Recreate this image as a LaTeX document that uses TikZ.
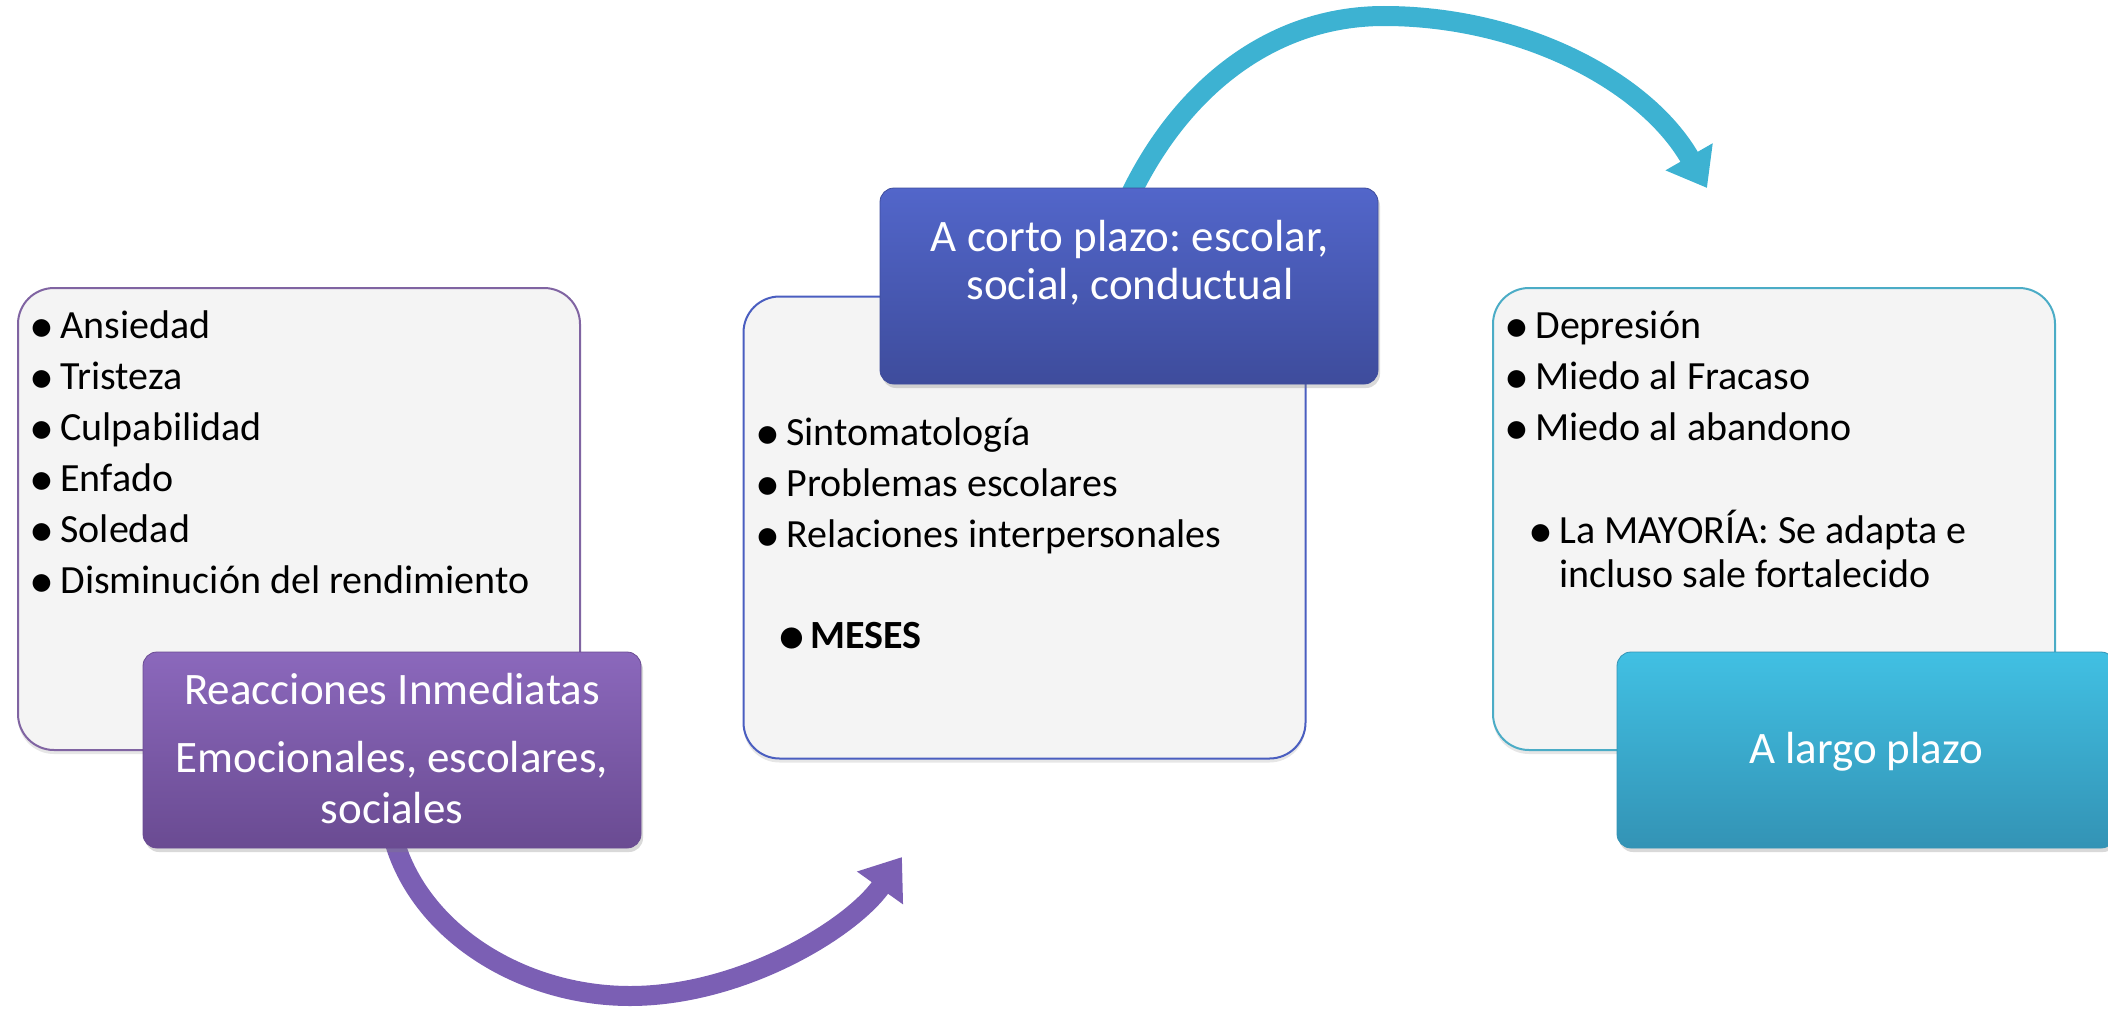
\documentclass[tikz,border=0pt]{standalone}
\usepackage{fontspec}
\setmainfont{Carlito}
\usetikzlibrary{arrows.meta,shadows,backgrounds}
\frenchspacing

\definecolor{paper}{HTML}{F4F4F4}
\definecolor{lilac}{HTML}{8064A2}
\definecolor{lilactop}{HTML}{8B68BC}
\definecolor{lilacbot}{HTML}{6A4B92}
\definecolor{indigo}{HTML}{4A5EC0}
\definecolor{indigotop}{HTML}{5266CA}
\definecolor{indigobot}{HTML}{3E4C9C}
\definecolor{lagoon}{HTML}{4BACC6}
\definecolor{lagoontop}{HTML}{41C0E3}
\definecolor{lagoonbot}{HTML}{3393B5}
\definecolor{lilacarrow}{HTML}{7B5FB4}
\definecolor{lagoonarrow}{HTML}{3DB2D2}

\newcommand{\bul}{\llap{\raisebox{-2.4pt}{\scalebox{1.25}{\textbullet}}\hspace{3pt}}}

\begin{document}
\begin{tikzpicture}[x=0.5pt, y=-0.5pt,
		lightbox/.style={draw=#1, line width=1pt, fill=paper, rounded corners=18pt, inner sep=0pt,
			minimum width=281pt, minimum height=231pt,
			drop shadow={opacity=0.2, shadow xshift=0pt, shadow yshift=-2pt}},
		headbox/.style 2 args={rounded corners=7pt, inner sep=0pt, top color=#1, bottom color=#2, draw=#2,
			minimum width=249pt, minimum height=98pt,
			drop shadow={opacity=0.3, shadow xshift=1pt, shadow yshift=-2pt}},
		listitem/.style={anchor=base west, inner sep=0pt, font=\fontsize{20}{24}\selectfont},
		headtext/.style={anchor=base, inner sep=0pt, text=white, font=\fontsize{22.5}{27}\selectfont}]

			\useasboundingbox	(0, 0) rectangle (2108, 1012);

			% cajas claras
			\node[lightbox=lilac]	(emopanel) at (299, 519) {};
			\node[lightbox=indigo]	(shortpanel) at (1024.5, 527.5) {};
			\node[lightbox=lagoon]	(longpanel) at (1774, 519) {};

			% listas
			\foreach \txt [count=\i from 0] in {Ansiedad, Tristeza, Culpabilidad, Enfado, Soledad, Disminución del rendimiento}
				\node[listitem] (emo\i) at (60, {338+51*\i}) {\bul\txt};

			\foreach \txt [count=\i from 0] in {Sintomatología, Problemas escolares, Relaciones interpersonales}
				\node[listitem] (sym\i) at (786, {445+51*\i}) {\bul\txt};
			\node[listitem, font=\fontsize{20}{24}\selectfont\bfseries]	(months) at (810, 648) {\bul MESES};

			\foreach \txt [count=\i from 0] in {Depresión, Miedo al Fracaso, Miedo al abandono}
				\node[listitem] (fear\i) at (1535, {338+51*\i}) {\bul\txt};
			\node[listitem]	(most) at (1559, 543) {\bul La MAYORÍA: Se adapta e};
			\node[listitem]	(most2) at (1559, 587) {incluso sale fortalecido};

			% cajas de color
			\node[headbox={lilactop}{lilacbot}]		(react) at (392, 750) {};
			\node[headbox={indigotop}{indigobot}]	(shortterm) at (1129, 286) {};
			\node[headbox={lagoontop}{lagoonbot}]	(longterm) at (1866, 750) {};

			\node[headtext]	(react1) at (392, 704) {Reacciones Inmediatas};
			\node[headtext]	(react2) at (392, 772) {Emocionales, escolares,};
			\node[headtext]	(react3) at (392, 823) {sociales};

			\node[headtext]	(short1) at (1130, 251) {A corto plazo: escolar,};
			\node[headtext]	(short2) at (1130, 299) {social, conductual};

			\node[headtext]	(long1) at (1866, 763) {A largo plazo};

			% flechas
			\coordinate	(tipa) at (902, 857);
			\coordinate	(tipb) at (1707, 188);

			\begin{scope}[on background layer]
				\draw[-{Triangle[length=19pt, width=27pt]}, lilacarrow, line width=10pt]
					([yshift=8pt]react.south) .. controls (415, 930) and (520, 996) .. (630, 996)
					.. controls (740, 996) and (850, 930) .. (tipa);
				\draw[-{Triangle[length=18pt, width=26pt]}, lagoonarrow, line width=10pt]
					([yshift=-5pt]shortterm.north) .. controls (1180, 90) and (1270, 16) .. (1384, 16)
					.. controls (1520, 16) and (1645, 80) .. (tipb);
			\end{scope}
		\end{tikzpicture}
\end{document}
